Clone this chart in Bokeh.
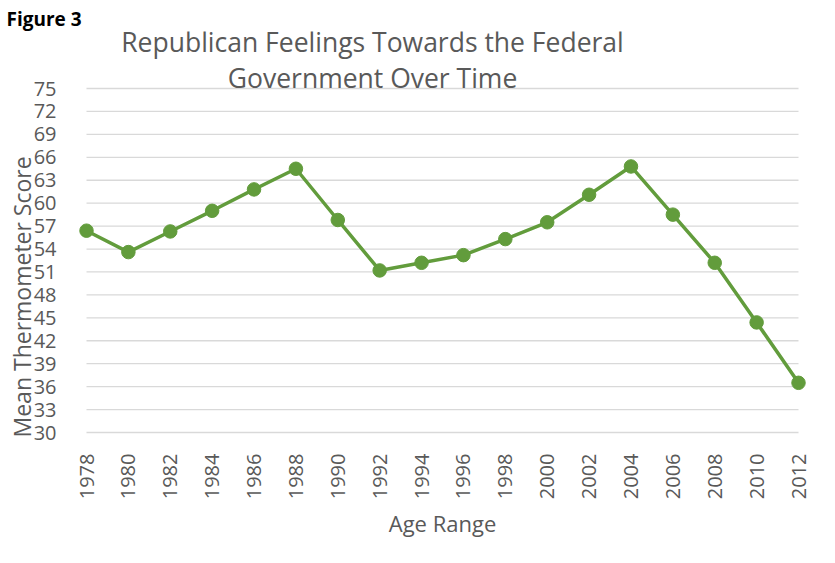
import math
from bokeh.plotting import figure
from bokeh.models import Range1d, Label, Title, FixedTicker, ColumnDataSource
from bokeh.embed import file_html
from bokeh.resources import INLINE

years = [1978, 1980, 1982, 1984, 1986, 1988, 1990, 1992, 1994,
         1996, 1998, 2000, 2002, 2004, 2006, 2008, 2010, 2012]
scores = [56.4, 53.6, 56.3, 59.0, 61.8, 64.5, 57.8, 51.2, 52.2,
          53.2, 55.3, 57.5, 61.1, 64.8, 58.5, 52.2, 44.4, 36.5]
y_ticks = list(range(30, 76, 3))

title_lines = ["Republican Feelings Towards the Federal", "Government Over Time"]
figure_tag = "Figure 3"
y_title = "Mean Thermometer Score"
x_title = "Age Range"

GREEN = "#629c3c"
GRAY = "#595959"
GRID = "#d9d9d9"
FONT = "Open Sans"

# frame layout (pixels): top 31, bottom 435, left 78, right 806
px_per_year = 712 / (years[-1] - years[0])
px_per_unit = 344 / (y_ticks[-1] - y_ticks[0])
xpad = 8 / px_per_year
y_lo = y_ticks[0] - 3 / px_per_unit
y_hi = y_ticks[-1] + 57 / px_per_unit   # room for the title inside the frame

p = figure(width=819, height=547, output_backend="svg", toolbar_location=None,
           x_range=Range1d(years[0] - xpad, years[-1] + xpad),
           y_range=Range1d(y_lo, y_hi),
           min_border_left=78, min_border_right=13,
           min_border_top=31, min_border_bottom=112)
p.outline_line_color = None
p.xgrid.visible = False
p.ygrid.visible = False

gsrc = ColumnDataSource(dict(x0=[years[0]] * len(y_ticks), x1=[years[-1]] * len(y_ticks), y=y_ticks))
p.segment(x0="x0", y0="y", x1="x1", y1="y", source=gsrc, line_color=GRID, line_width=1.3)

src = ColumnDataSource(dict(x=years, y=scores))
p.line("x", "y", source=src, line_color=GREEN, line_width=3.5)
p.scatter("x", "y", source=src, size=13.5, fill_color=GREEN, line_color=GREEN)

for ax in (p.xaxis[0], p.yaxis[0]):
    ax.axis_line_color = None
    ax.major_tick_line_color = None
    ax.minor_tick_line_color = None
    ax.major_label_text_font = FONT
    ax.major_label_text_color = GRAY
    ax.major_label_text_font_size = "20px"

p.yaxis[0].ticker = FixedTicker(ticks=y_ticks)
p.yaxis[0].major_label_standoff = 16
p.xaxis[0].ticker = FixedTicker(ticks=years)
p.xaxis[0].major_label_orientation = math.pi / 2
p.xaxis[0].major_label_standoff = 12
p.xaxis[0].axis_label = x_title
p.xaxis[0].axis_label_text_font = FONT
p.xaxis[0].axis_label_text_font_style = "normal"
p.xaxis[0].axis_label_text_color = GRAY
p.xaxis[0].axis_label_text_font_size = "22px"
p.xaxis[0].axis_label_standoff = 6

p.title.visible = False
p.add_layout(Title(text=figure_tag, align="left", offset=-72, standoff=0,
                   text_font=FONT, text_font_style="bold", text_font_size="19px",
                   text_color="#000000"), "above")
p.add_layout(Title(text=y_title, align="left", offset=-2, standoff=-14,
                   vertical_align="bottom",
                   text_font=FONT, text_font_style="normal", text_font_size="23px",
                   text_color=GRAY), "left")

for line, yy in zip(title_lines, [393.5, 358]):
    p.add_layout(Label(x=294, y=yy, x_units="screen", y_units="screen", text=line,
                       text_align="center", text_baseline="alphabetic",
                       text_font=FONT, text_font_size="26.5px", text_color=GRAY))

open("out.html", "w").write(file_html(p, INLINE))
